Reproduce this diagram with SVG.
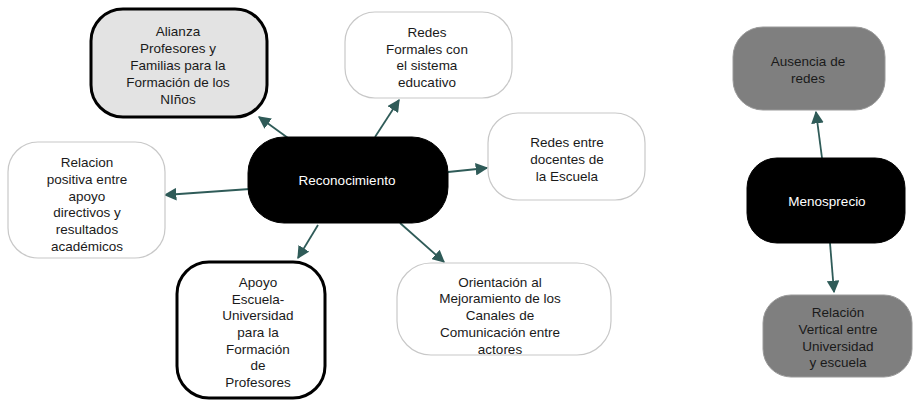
<svg xmlns="http://www.w3.org/2000/svg" width="917" height="400" viewBox="0 0 917 400">
<style>
text{font-family:"Liberation Sans",Arial,sans-serif;font-size:13.5px;text-anchor:middle;fill:#1a1a1a}
.w{fill:#fff;stroke:#c8c8c8;stroke-width:1.2}
.k{fill:#000;stroke:#000}
.kt{fill:#fff}
.thick{fill:#fff;stroke:#000;stroke-width:3}
.lg{fill:#e3e3e3;stroke:#000;stroke-width:3}
.g{fill:#7f7f7f;stroke:#9a9a9a;stroke-width:1}
.c line{stroke:#2f5b58;stroke-width:1.8}
</style>
<defs>
<marker id="ah" viewBox="0 0 10 10" refX="9" refY="5" markerWidth="7" markerHeight="7" orient="auto" markerUnits="strokeWidth">
<path d="M0,0 L10,5 L0,10 z" fill="#2f5b58"/>
</marker>
</defs>
<rect width="917" height="400" fill="#fff"/>
<g class="c">
<line x1="288" y1="138" x2="259" y2="117" marker-end="url(#ah)"/>
<line x1="375" y1="137" x2="399" y2="100" marker-end="url(#ah)"/>
<line x1="448" y1="172" x2="487" y2="168" marker-end="url(#ah)"/>
<line x1="250" y1="189" x2="165" y2="195" marker-end="url(#ah)"/>
<line x1="318" y1="225" x2="298" y2="258" marker-end="url(#ah)"/>
<line x1="400" y1="223" x2="444" y2="262" marker-end="url(#ah)"/>
<line x1="822" y1="158" x2="816" y2="112" marker-end="url(#ah)"/>
<line x1="830" y1="243" x2="834" y2="292" marker-end="url(#ah)"/>
</g>
<g id="alianza">
<rect x="91" y="9" width="176" height="108" rx="32" class="lg"/>
<text x="178" y="36">Alianza</text>
<text x="178" y="53">Profesores y</text>
<text x="178" y="70">Familias para la</text>
<text x="178" y="87">Formación de los</text>
<text x="178" y="104">NIños</text>
</g>
<g id="redes-formales">
<rect x="345" y="12" width="167" height="86" rx="30" class="w"/>
<text x="427" y="37">Redes</text>
<text x="427" y="54">Formales con</text>
<text x="427" y="70">el sistema</text>
<text x="427" y="87">educativo</text>
</g>
<g id="relacion">
<rect x="8" y="142" width="157" height="116" rx="30" class="w"/>
<text x="87" y="167">Relacion</text>
<text x="87" y="184">positiva entre</text>
<text x="87" y="201">apoyo</text>
<text x="87" y="217">directivos y</text>
<text x="87" y="234">resultados</text>
<text x="87" y="251">académicos</text>
</g>
<g id="reconocimiento">
<rect x="248" y="137" width="200" height="86" rx="36" class="k"/>
<text x="347" y="185" class="kt">Reconocimiento</text>
</g>
<g id="redes-docentes">
<rect x="488" y="113" width="157" height="87" rx="30" class="w"/>
<text x="567" y="147">Redes entre</text>
<text x="567" y="164">docentes de</text>
<text x="567" y="181">la Escuela</text>
</g>
<g id="apoyo">
<rect x="177" y="262" width="148" height="136" rx="32" class="thick"/>
<text x="258" y="287">Apoyo</text>
<text x="258" y="304">Escuela-</text>
<text x="258" y="320">Universidad</text>
<text x="258" y="337">para la</text>
<text x="258" y="354">Formación</text>
<text x="258" y="370">de</text>
<text x="258" y="387">Profesores</text>
</g>
<g id="orientacion">
<rect x="397" y="263" width="214" height="92" rx="34" class="w"/>
<text x="500" y="287">Orientación al</text>
<text x="500" y="303">Mejoramiento de los</text>
<text x="500" y="320">Canales de</text>
<text x="500" y="337">Comunicación entre</text>
<text x="500" y="354">actores</text>
</g>
<g id="ausencia">
<rect x="733" y="27" width="152" height="83" rx="30" class="g"/>
<text x="808" y="66">Ausencia de</text>
<text x="808" y="83">redes</text>
</g>
<g id="menosprecio">
<rect x="747" y="158" width="158" height="85" rx="30" class="k"/>
<text x="827" y="206" class="kt">Menosprecio</text>
</g>
<g id="relacion-vertical">
<rect x="763" y="295" width="149" height="82" rx="28" class="g"/>
<text x="838" y="317">Relación</text>
<text x="838" y="334">Vertical entre</text>
<text x="838" y="351">Universidad</text>
<text x="838" y="367">y escuela</text>
</g>
</svg>
